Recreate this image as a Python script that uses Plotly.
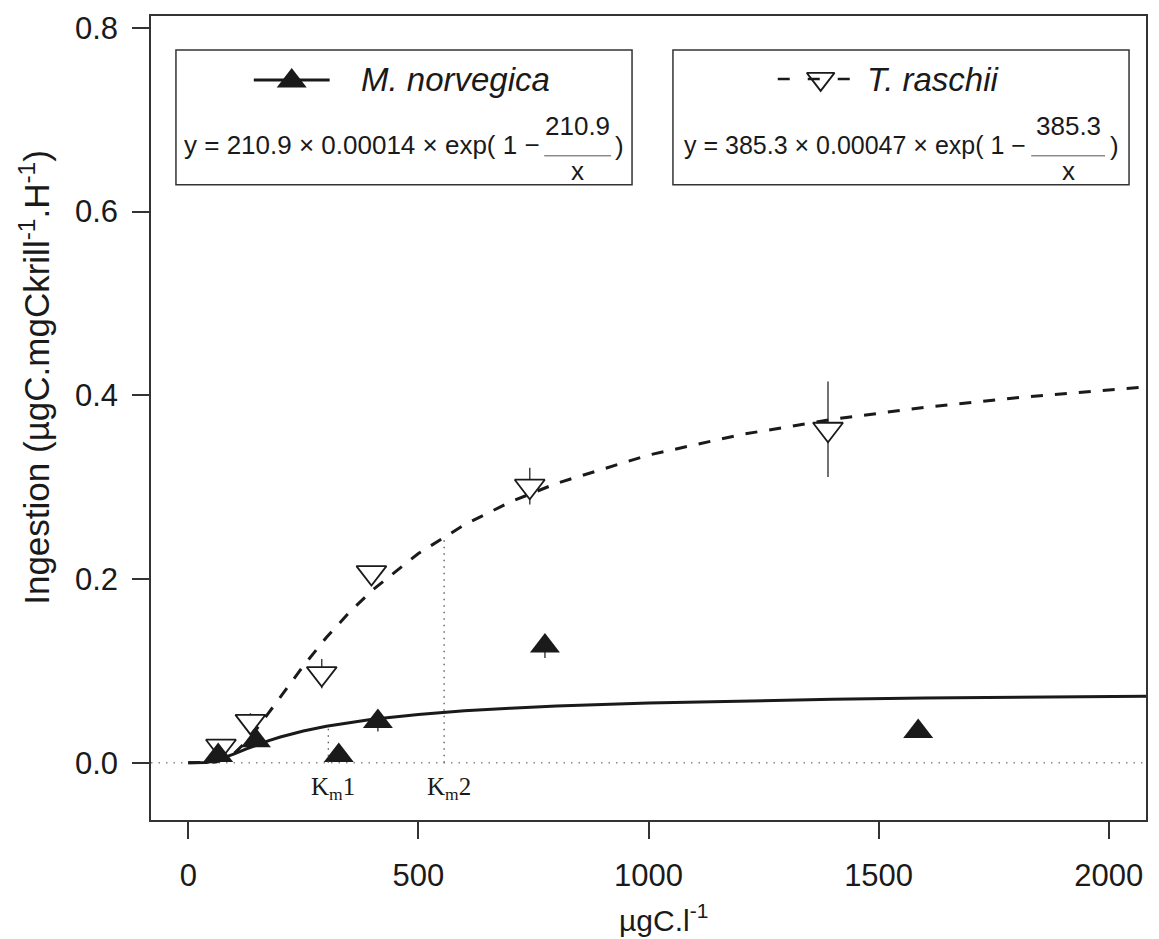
import plotly.graph_objects as go

# ---------------- data ----------------
mn_x = [65, 147, 327, 412, 775, 1586]
mn_y = [0.008, 0.024, 0.008, 0.045, 0.127, 0.034]
mn_err = [0.0, 0.0, 0.0, 0.011, 0.013, 0.005]

tr_x = [71, 135, 290, 398, 742, 1390]
tr_y = [0.018, 0.045, 0.097, 0.207, 0.301, 0.363]
tr_err = [0.0, 0.009, 0.016, 0.005, 0.020, 0.052]

# fitted curves
fit_x = [0, 20, 40, 60, 80, 100, 125, 150, 175, 200, 250, 300, 350, 400,
         500, 600, 700, 800, 1000, 1200, 1400, 1600, 1800, 2081]
mn_fit = [0, 0.0000, 0.0004, 0.0024, 0.0058, 0.0097, 0.0149, 0.0197, 0.0241,
          0.0280, 0.0345, 0.0397, 0.0439, 0.0474, 0.0526, 0.0565, 0.0594,
          0.0617, 0.0650, 0.0673, 0.0690, 0.0704, 0.0714, 0.0725]
tr_fit = [0, 0.0000, 0.0000, 0.0008, 0.0040, 0.0104, 0.0226, 0.0377, 0.0545,
          0.0717, 0.1054, 0.1363, 0.1637, 0.1879, 0.2278, 0.2590, 0.2839,
          0.3041, 0.3349, 0.3571, 0.3738, 0.3869, 0.3974, 0.4090]

km_x = [304.3, 555.9]
km_y = [0.0401, 0.2461]
km_labels = ["K<sub>m</sub>1", "K<sub>m</sub>2"]

x_ticks = [0, 500, 1000, 1500, 2000]
y_ticks = [0.0, 0.2, 0.4, 0.6, 0.8]
y_ticktext = ["0.0", "0.2", "0.4", "0.6", "0.8"]

eq_mn = ("y = 210.9 \u00d7 0.00014 \u00d7 exp( 1 \u2212", "210.9", "x")
eq_tr = ("y = 385.3 \u00d7 0.00047 \u00d7 exp( 1 \u2212", "385.3", "x")
name_mn = "M. norvegica"
name_tr = "T. raschii"

# ---------------- styling ----------------
W, H = 1159, 939
PL, PR, PT, PB = 151, 1148, 15, 820
INK = "#1a1a1a"
FRAME = "#333333"
SANS = "Liberation Sans, Arial, sans-serif"
SERIF = "Liberation Serif, Times New Roman, serif"


def px(xp):
    return (xp - PL) / (PR - PL)


def py(yp):
    return (PB - yp) / (PB - PT)


fig = go.Figure()

# T. raschii points (open, white filled) with error bars
fig.add_trace(go.Scatter(
    x=tr_x, y=tr_y, mode="markers",
    marker=dict(symbol="triangle-down", size=26, color="white",
                line=dict(color=INK, width=1.8)),
    error_y=dict(type="data", array=tr_err, width=0, thickness=1.5, color="#444444"),
    showlegend=False, hoverinfo="skip"))

# M. norvegica points (filled)
fig.add_trace(go.Scatter(
    x=mn_x, y=mn_y, mode="markers",
    marker=dict(symbol="triangle-up", size=26, color=INK,
                line=dict(color=INK, width=0)),
    error_y=dict(type="data", array=mn_err, width=0, thickness=1.5, color="#444444"),
    showlegend=False, hoverinfo="skip"))

# Km dotted drop lines
for kx, ky in zip(km_x, km_y):
    fig.add_trace(go.Scatter(
        x=[kx, kx], y=[0, ky], mode="lines",
        line=dict(color="#555555", width=1.3, dash="1.5px,5px"),
        showlegend=False, hoverinfo="skip"))

# fitted curves
fig.add_trace(go.Scatter(
    x=fit_x, y=tr_fit, mode="lines",
    line=dict(color=INK, width=3, dash="12px,12px"),
    showlegend=False, hoverinfo="skip"))
fig.add_trace(go.Scatter(
    x=fit_x, y=mn_fit, mode="lines",
    line=dict(color=INK, width=3),
    showlegend=False, hoverinfo="skip"))

# legend glyphs on an invisible overlay axis (0..1 = plot area)
fig.add_trace(go.Scatter(
    x=[px(254), px(330)], y=[py(79), py(79)], mode="lines",
    line=dict(color=INK, width=3), xaxis="x2", yaxis="y2",
    showlegend=False, hoverinfo="skip"))
fig.add_trace(go.Scatter(
    x=[px(292)], y=[py(80)], mode="markers",
    marker=dict(symbol="triangle-up", size=26, color=INK),
    xaxis="x2", yaxis="y2", showlegend=False, hoverinfo="skip"))
fig.add_trace(go.Scatter(
    x=[px(779), px(852)], y=[py(78), py(78)], mode="lines",
    line=dict(color=INK, width=2.5, dash="12px,18px"), xaxis="x2", yaxis="y2",
    showlegend=False, hoverinfo="skip"))
fig.add_trace(go.Scatter(
    x=[px(822)], y=[py(78)], mode="markers",
    marker=dict(symbol="triangle-down", size=24, color="rgba(255,255,255,0)",
                line=dict(color=INK, width=1.8)),
    xaxis="x2", yaxis="y2", showlegend=False, hoverinfo="skip"))

shapes = []
annotations = []

# zero reference line
shapes.append(dict(type="line", xref="x domain", x0=0, x1=1, yref="y", y0=0, y1=0,
                   line=dict(color="#888888", width=1.3, dash="1.5px,6px"), layer="below"))

# legend boxes
for (l, r) in [(176, 633), (674, 1131)]:
    shapes.append(dict(type="rect", xref="paper", yref="paper",
                       x0=px(l), x1=px(r), y0=py(184), y1=py(49),
                       line=dict(color=FRAME, width=1.5), fillcolor="rgba(0,0,0,0)"))

# fraction bars
for (l, r) in [(545, 612), (1033, 1107)]:
    shapes.append(dict(type="line", xref="paper", yref="paper",
                       x0=px(l), x1=px(r), y0=py(155), y1=py(155),
                       line=dict(color="#555555", width=1)))

# legend names
annotations.append(dict(x=px(359), y=py(79), xref="paper", yref="paper", text=name_mn,
                        showarrow=False, xanchor="left", yanchor="middle",
                        font=dict(family=SANS, size=33, color=INK, style="italic")))
annotations.append(dict(x=px(866), y=py(79), xref="paper", yref="paper", text=name_tr,
                        showarrow=False, xanchor="left", yanchor="middle",
                        font=dict(family=SANS, size=33, color=INK, style="italic")))

# equations
for eq, left, fsz, cx, rp in [(eq_mn, 182, 26, 578, 614), (eq_tr, 683, 25, 1070, 1110)]:
    annotations.append(dict(x=px(left), y=py(144), xref="paper", yref="paper", text=eq[0],
                            showarrow=False, xanchor="left", yanchor="middle",
                            font=dict(family=SANS, size=fsz, color=INK)))
    annotations.append(dict(x=px(cx), y=py(125), xref="paper", yref="paper", text=eq[1],
                            showarrow=False, xanchor="center", yanchor="middle",
                            font=dict(family=SANS, size=26, color=INK)))
    annotations.append(dict(x=px(cx), y=py(170), xref="paper", yref="paper", text=eq[2],
                            showarrow=False, xanchor="center", yanchor="middle",
                            font=dict(family=SANS, size=26, color=INK)))
    annotations.append(dict(x=px(rp), y=py(145), xref="paper", yref="paper", text=")",
                            showarrow=False, xanchor="left", yanchor="middle",
                            font=dict(family=SANS, size=26, color=INK)))

# Km labels
for kx, lab in zip(km_x, km_labels):
    annotations.append(dict(x=kx, y=0, xref="x", yref="y", text=lab, showarrow=False,
                            xanchor="center", yanchor="top", yshift=-8, xshift=5,
                            font=dict(family=SERIF, size=25, color=INK)))

# axis titles
annotations.append(dict(x=px(665), y=py(918), xref="paper", yref="paper",
                        text="\u00b5gC.l<sup>-1</sup>", showarrow=False,
                        xanchor="center", yanchor="middle",
                        font=dict(family=SANS, size=30, color=INK)))
annotations.append(dict(x=px(34), y=py(377), xref="paper", yref="paper",
                        text="Ingestion (\u00b5gC.mgCkrill<sup>-1</sup>.H<sup>-1</sup>)",
                        showarrow=False, textangle=-90,
                        xanchor="center", yanchor="middle",
                        font=dict(family=SANS, size=35, color=INK)))

axis_common = dict(showgrid=False, zeroline=False, showline=True, mirror=True,
                   linecolor=FRAME, linewidth=1.5, ticks="outside", ticklen=17,
                   tickwidth=1.5, tickcolor=FRAME,
                   tickfont=dict(family=SANS, size=31, color=INK))

fig.update_layout(
    width=W, height=H,
    margin=dict(l=PL, r=W - PR, t=PT, b=H - PB, pad=0),
    paper_bgcolor="white", plot_bgcolor="white",
    xaxis=dict(range=[-81, 2081], tickvals=x_ticks, ticklabelstandoff=10, **axis_common),
    yaxis=dict(range=[-0.0623, 0.8128], tickvals=y_ticks, ticktext=y_ticktext,
               ticklabelstandoff=8, **axis_common),
    xaxis2=dict(overlaying="x", range=[0, 1], visible=False),
    yaxis2=dict(overlaying="y", range=[0, 1], visible=False),
    shapes=shapes, annotations=annotations, showlegend=False,
)

fig.write_html("out.html")
